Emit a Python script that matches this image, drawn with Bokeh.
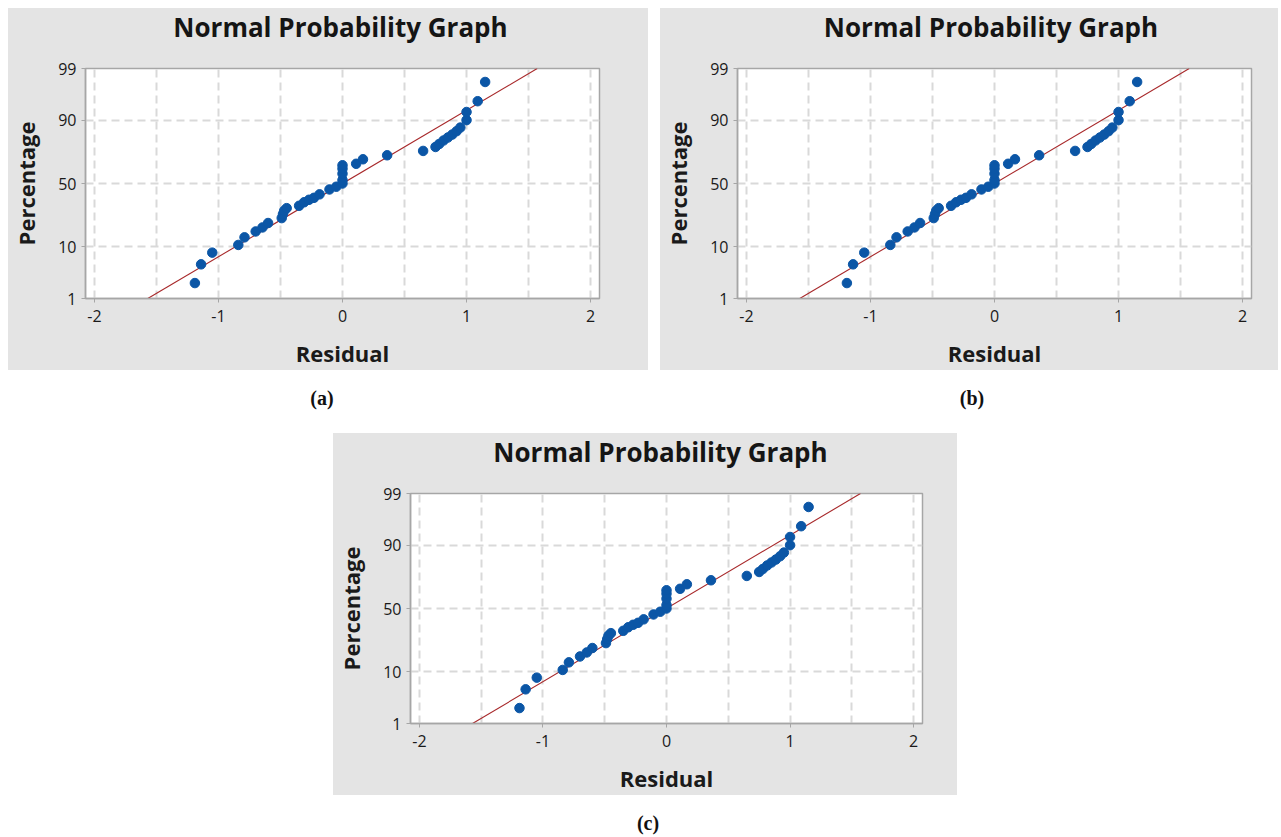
from statistics import NormalDist
from bokeh.plotting import figure
from bokeh.models import Range1d, FixedTicker, Div, Spacer, CustomJSTickFormatter
from bokeh.layouts import column, row
from bokeh.embed import file_html
from bokeh.resources import INLINE

# ---- data (same residuals in all three panels) ----
residual = [-1.19, -1.14, -1.05, -0.84, -0.79, -0.70, -0.645, -0.60, -0.49, -0.48,
            -0.47, -0.45, -0.35, -0.31, -0.27, -0.23, -0.185, -0.105, -0.05, 0.0,
            0.0, 0.0, 0.0, 0.0, 0.11, 0.165, 0.36, 0.65, 0.75, 0.78,
            0.815, 0.85, 0.885, 0.92, 0.95, 1.0, 1.0, 1.09, 1.15]
percent = [2.2, 5.1, 8.1, 10.7, 13.8, 16.6, 18.7, 21.2, 24.2, 26.8,
           29.1, 30.9, 32.6, 35.2, 37.1, 38.6, 41.3, 45.2, 47.4, 50.0,
           52.8, 57.9, 61.8, 64.4, 65.5, 68.8, 71.6, 74.5, 77.0, 78.8,
           80.8, 82.4, 83.9, 85.5, 87.1, 90.0, 92.6, 95.2, 98.0]
fit_residual = [-1.57, 1.57]
fit_percent = [1, 99]
x_ticks = [-2, -1, 0, 1, 2]
x_grid = [-2, -1.5, -1, -0.5, 0, 0.5, 1, 1.5, 2]
y_tick_percent = [1, 10, 50, 90, 99]
captions = ["(a)", "(b)", "(c)"]
title_text = "Normal Probability Graph"
x_label = "Residual"
y_label = "Percentage"

nd = NormalDist()


def pz(p):
    return nd.inv_cdf(p / 100.0)


FONT = "Open Sans"
BG = "#e4e4e4"
FRAME = "#a6a6a6"
BLUE = "#0b56a6"
RED = "#a8292b"
TITLE_H = 40

y_tick_z = [pz(v) for v in y_tick_percent]


def make_panel(width, left, right, bottom):
    p = figure(width=width, height=362 - TITLE_H, output_backend="svg", toolbar_location=None,
               x_range=Range1d(-2.072, 2.072), y_range=Range1d(pz(1), pz(99)),
               min_border_left=left, min_border_right=right,
               min_border_top=60 - TITLE_H, min_border_bottom=bottom,
               background_fill_color="white", border_fill_color=BG)
    p.title.visible = False

    p.outline_line_color = FRAME
    p.outline_line_width = 1.5

    p.xaxis.ticker = FixedTicker(ticks=x_ticks)
    p.xaxis.formatter = CustomJSTickFormatter(code="return String(tick);")
    p.yaxis.ticker = FixedTicker(ticks=y_tick_z)
    p.yaxis.formatter = CustomJSTickFormatter(
        args=dict(zs=y_tick_z, ps=y_tick_percent),
        code="""
        let best = 0, bd = 1e9;
        for (let i = 0; i < zs.length; i++) {
            const d = Math.abs(zs[i] - tick);
            if (d < bd) { bd = d; best = i; }
        }
        return String(ps[best]);
        """)
    for ax in (p.xaxis[0], p.yaxis[0]):
        ax.axis_line_color = FRAME
        ax.axis_line_width = 1.5
        ax.major_tick_line_color = FRAME
        ax.major_tick_in = 0
        ax.major_tick_out = 4
        ax.minor_tick_line_color = None
        ax.major_label_text_font = FONT
        ax.major_label_text_font_size = "16px"
        ax.major_label_text_color = "#1a1a1a"
        ax.axis_label_text_font = FONT
        ax.axis_label_text_font_size = "22px"
        ax.axis_label_text_font_style = "bold"
        ax.axis_label_text_color = "#1a1a1a"
    p.xaxis.major_label_standoff = 7
    p.yaxis.major_label_standoff = 5
    p.xaxis.axis_label = x_label
    p.yaxis.axis_label = y_label
    p.xaxis.axis_label_standoff = 13
    p.yaxis.axis_label_standoff = 14

    p.xgrid.ticker = FixedTicker(ticks=x_grid)
    p.ygrid.ticker = FixedTicker(ticks=y_tick_z)
    for g in (p.xgrid[0], p.ygrid[0]):
        g.grid_line_color = "#d9d9d9"
        g.grid_line_width = 2
        g.grid_line_dash = "8 5"

    p.line([v for v in fit_residual], [pz(v) for v in fit_percent],
           line_color=RED, line_width=1.1)
    p.scatter(residual, [pz(v) for v in percent], size=9.5,
              fill_color=BLUE, line_color=BLUE, marker="circle")

    frame_center = left + (width - left - right) / 2.0
    head = Div(
        text=(f'<div style="position:relative;width:{width}px;height:{TITLE_H + 2}px;background:{BG};">'
              f'<span style="position:absolute;left:{frame_center:.1f}px;top:{TITLE_H / 2:.0f}px;'
              f'transform:translate(-50%,-52%);font-family:\'{FONT}\';font-weight:bold;'
              f'font-size:26px;color:#151515;white-space:nowrap;line-height:1;">{title_text}</span></div>'),
        width=width, height=TITLE_H, margin=(0, 0, 0, 0),
        styles={"background-color": BG, "overflow": "visible"})
    return column(head, p, styles={"background-color": BG})


pa = make_panel(640, 74, 49, 69)
pb = make_panel(618, 71, 27, 69)
pc = make_panel(624, 66, 35, 68)

cap_style = "position:absolute;transform:translateX(-50%);font-family:'Liberation Serif';font-weight:bold;font-size:20px;color:#111;white-space:nowrap;"

cap_row1 = Div(
    text=(f'<div style="position:relative;width:1272px;height:63px;">'
          f'<span style="{cap_style}top:14px;left:314px;">{captions[0]}</span>'
          f'<span style="{cap_style}top:14px;left:964px;">{captions[1]}</span></div>'),
    width=1270, height=63, margin=(0, 0, 0, 0))
cap_row2 = Div(
    text=(f'<div style="position:relative;width:1272px;height:34px;">'
          f'<span style="{cap_style}top:14px;left:640px;">{captions[2]}</span></div>'),
    width=1270, height=34, margin=(0, 0, 0, 0))

body = column(
    row(pa, Spacer(width=12, height=362), pb),
    cap_row1,
    row(Spacer(width=325, height=362), pc),
    cap_row2,
)
layout = column(
    Spacer(width=1278, height=8),
    row(Spacer(width=8, height=821), body),
)

open("out.html", "w").write(file_html(layout, INLINE))
